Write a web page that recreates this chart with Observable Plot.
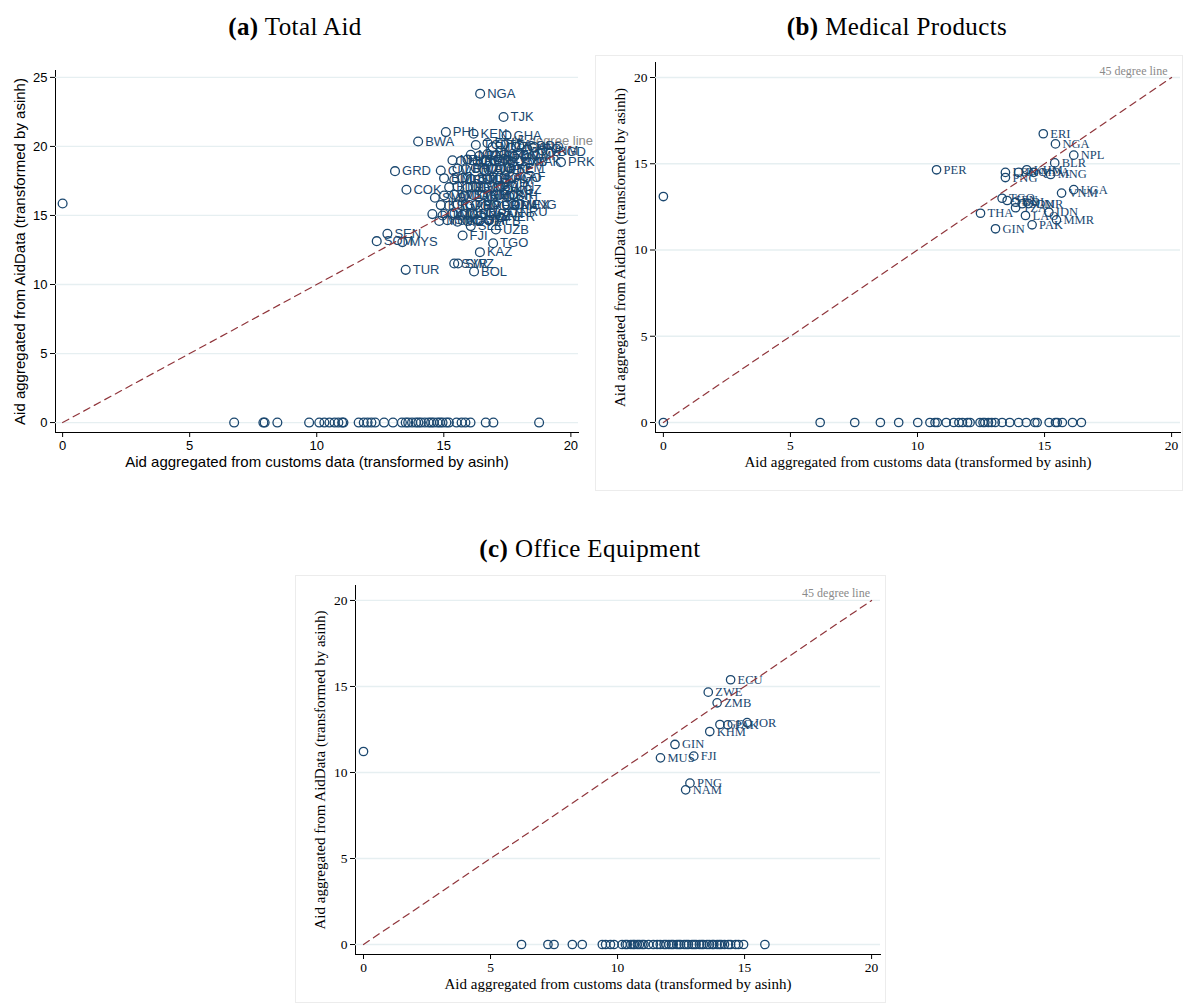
<!DOCTYPE html>
<html><head><meta charset="utf-8">
<script src="https://cdn.jsdelivr.net/npm/d3@7"></script>
<script src="https://cdn.jsdelivr.net/npm/@observablehq/plot@0.6"></script>
<style>
body{margin:0;background:#fff;width:1183px;height:1003px;position:relative;overflow:hidden}
.title{position:absolute;font-family:"Liberation Serif",serif;font-size:25px;letter-spacing:0.4px;transform:translate(-50%,-50%);white-space:nowrap;color:#000}
.panel{position:absolute}
.box{position:absolute;border:1px solid #ececec;box-sizing:border-box}
</style></head><body>
<div class="box" style="left:595px;top:55px;width:588px;height:436px"></div>
<div class="box" style="left:295px;top:575px;width:591px;height:428px"></div>
<div class="title" style="left:295px;top:27px"><b>(a)</b> Total Aid</div>
<div class="title" style="left:897px;top:27px"><b>(b)</b> Medical Products</div>
<div class="title" style="left:590px;top:549px"><b>(c)</b> Office Equipment</div>
<div id="pa" class="panel" style="left:0;top:0"></div>
<div id="pb" class="panel" style="left:595px;top:55px"></div>
<div id="pc" class="panel" style="left:295px;top:575px"></div>
<script>
const xTicks = [0, 5, 10, 15, 20];
const yTicksA = [0, 5, 10, 15, 20, 25];
const yTicksBC = [0, 5, 10, 15, 20];
const diagonal = [0, 20];
const xTitle = "Aid aggregated from customs data (transformed by asinh)";
const yTitle = "Aid aggregated from AidData (transformed by asinh)";
const lineText = "45 degree line";

// ---- (a) Total Aid ----
const totalCodes = ["NGA","TJK","PHL","KEN","GHA","BWA","GRD","CIV","COK","SLB","PRK","PAK","SEN","SOM","MYS","TUR","FJI","SLE","UZB","TGO","KAZ","BOL","SYR","SWZ","ALB","KGZ","MNG","NER","NRU","CAF",
 "TCD","ETH","MOZ","TZA","UGA","COD","AFG","IND","VNM","BGD",
 "MLI","BFA","NIC","HTI","SDN","MWI","CMR",
 "NPL","LKA","HND","BEN","GIN","IRQ","EGY","ZMB",
 "LBR","RWA","MDG","ZWE","JOR","PSE","YEM",
 "BDI","MRT","LSO","GMB","TLS","LAO","KHM","AGO",
 "BTN","DJI","ERI","GNB","CPV","MAR","TUN",
 "VUT","WSM","TON","ARM","GEO","MDA","UKR","BIH",
 "KIR","SLV","GTM","PRY","ECU","PER","COL","BRA","MEX",
 "DOM","JAM","CUB","GUY","SUR","BLZ","PAN",
 "MUS","SYC","MDV","COM","STP"];
const totalCustoms = [16.43,17.35,15.08,16.17,17.47,13.99,13.08,14.88,13.53,14.65,19.61,18.36,12.78,12.36,13.37,13.50,15.74,16.06,17.05,16.94,16.42,16.19,15.41,15.56,16.78,17.51,17.97,17.24,17.70,17.70,
 16.26,16.72,16.92,17.24,17.64,17.97,18.29,18.56,18.88,19.21,
 16.06,16.39,16.72,17.05,17.38,17.77,18.16,
 15.34,15.67,15.93,16.33,16.65,16.98,17.38,17.71,
 15.54,15.87,16.26,16.59,16.92,17.24,17.57,
 15.01,15.41,15.73,16.06,16.39,16.72,17.11,17.44,
 15.21,15.54,15.93,16.26,16.59,16.92,17.24,
 15.01,15.41,15.80,16.19,16.52,16.85,17.18,17.57,
 14.88,15.21,15.54,15.93,16.26,16.65,16.98,17.38,17.77,
 14.55,14.95,15.34,15.73,16.13,16.46,16.85,
 14.82,15.14,15.54,15.93,16.33];
const totalAidData = [23.82,22.13,21.04,20.92,20.80,20.36,18.21,18.26,16.86,16.28,18.86,18.86,13.67,13.14,13.07,11.06,13.55,14.23,13.99,12.99,12.34,10.94,11.52,11.52,14.64,16.86,15.80,14.88,15.24,17.78,
 20.10,20.25,19.95,20.15,19.90,20.05,19.80,19.95,19.70,19.60,
 19.40,19.30,19.45,19.30,19.40,19.25,19.35,
 19.00,18.95,19.05,18.90,19.00,18.95,19.10,18.85,
 18.40,18.35,18.45,18.30,18.40,18.35,18.45,
 17.70,17.60,17.70,17.65,17.60,17.70,17.60,17.70,
 17.05,17.10,17.00,17.10,17.00,17.05,17.10,
 16.45,16.50,16.40,16.45,16.50,16.40,16.50,16.40,
 15.75,15.70,15.80,15.70,15.75,15.70,15.80,15.70,15.75,
 15.10,15.00,15.15,15.05,15.10,15.00,15.15,
 14.60,14.65,14.55,14.60,14.65];
const totalZeroCustoms = [6.75,7.9,7.95,8.45,9.7,10.1,10.3,10.5,10.7,10.85,11.0,11.05,11.65,11.85,12.0,12.15,12.3,12.65,13.0,13.35,13.5,13.6,13.75,13.9,14.0,14.1,14.25,14.4,14.5,14.6,14.75,14.85,14.95,15.1,15.2,15.5,15.7,15.85,16.05,16.65,16.95,18.75];
const totalOutCustoms = [0];
const totalOutAidData = [15.87];
const totalLineLabel = [19.25, 20.4];

// ---- (b) Medical Products ----
const medCodes = ["ERI","NGA","NPL","BLR","PER","LBN","PNG","IRQ","KHM","MDA","MNG","UGA","VNM","TGO","SEN","BDI","SDN","CMR","TZA","THA","LAO","IDN","MMR","PAK","GIN"];
const medCustoms = [14.95,15.43,16.15,15.40,10.75,13.46,13.46,13.98,14.30,14.57,15.24,16.15,15.67,13.33,13.53,13.86,14.12,14.37,13.86,12.48,14.25,15.17,15.47,14.51,13.07];
const medAidData = [16.74,16.15,15.50,15.05,14.65,14.50,14.20,14.50,14.65,14.50,14.38,13.50,13.30,13.00,12.87,12.77,12.68,12.69,12.45,12.13,12.00,12.19,11.75,11.46,11.23];
const medZeroCustoms = [6.17,7.53,8.54,9.26,10.01,10.49,10.69,10.78,11.13,11.43,11.63,11.77,11.97,12.07,12.46,12.58,12.65,12.79,12.92,13.06,13.33,13.63,13.98,14.28,14.62,14.71,15.18,15.43,15.5,15.7,16.1,16.45];
const medOutCustoms = [0, 0];
const medOutAidData = [13.1, 0];
const medLineLabel = [18.5, 20.35];

// ---- (c) Office Equipment ----
const offCodes = ["ECU","ZWE","ZMB","GEO","PAK","JOR","KHM","GIN","MUS","FJI","PNG","NAM"];
const offCustoms = [14.45,13.57,13.92,14.03,14.34,15.10,13.63,12.26,11.69,13.00,12.85,12.68];
const offAidData = [15.39,14.67,14.05,12.79,12.77,12.90,12.38,11.63,10.85,10.95,9.38,8.99];
const offZeroCustoms = [6.22,7.26,7.5,8.22,8.61,9.4,9.53,9.72,9.86,10.18,10.31,10.38,10.52,10.61,10.67,10.78,10.86,10.97,11.04,11.22,11.41,11.56,11.68,11.83,11.91,12.02,12.12,12.19,12.33,12.41,12.48,12.62,12.71,12.79,12.93,13.01,13.09,13.22,13.31,13.38,13.52,13.61,13.73,13.79,13.92,14.01,14.08,14.21,14.36,14.45,14.65,14.76,14.96,15.8];
const offOutCustoms = [0];
const offOutAidData = [11.22];
const offLineLabel = [18.6, 20.4];

function makePanel(c) {
  const pts = c.codes.map((code, i) => ({code, x: c.xs[i], y: c.ys[i]}));
  const zeros = c.zeros.map(x => ({x, y: 0}));
  const outs = c.outX.map((x, i) => ({x, y: c.outY[i]}));
  const all = pts.concat(zeros, outs);
  const diag = diagonal.map(d => ({x: d, y: d}));
  return Plot.plot({
    width: c.width, height: c.height,
    marginLeft: c.ml, marginRight: c.mr, marginTop: c.mt, marginBottom: c.mb,
    style: {fontFamily: c.font, fontSize: c.tickFont + "px", background: "transparent", color: "#000", overflow: "visible"},
    x: {domain: c.xDom, ticks: xTicks, tickSize: 5, tickPadding: 3, line: true, label: null},
    y: {domain: c.yDom, ticks: c.yTicks, tickSize: 5, tickPadding: 3, line: true, label: null},
    marks: [
      Plot.ruleY(c.yTicks, {stroke: "#e6eff1", strokeWidth: 1.3}),
      Plot.text([lineText], {x: () => c.lineLabel[0], y: () => c.lineLabel[1], text: d => d, fill: "#8a8a8a", fontSize: c.lineFont, textAnchor: "middle"}),
      Plot.dot(all, {x: "x", y: "y", r: c.r, stroke: "#1a476f", strokeWidth: 1.3, fill: "none"}),
      Plot.text(pts, {x: "x", y: "y", text: "code", dx: c.dx, textAnchor: "start", fill: "#1a476f", fontSize: c.labelFont}),
      Plot.line(diag, {x: "x", y: "y", stroke: "#90353b", strokeWidth: 1.2, strokeDasharray: "7,5"}),
      Plot.text([xTitle], {frameAnchor: "bottom", dy: 34, text: d => d, fontSize: c.titleFont, textAnchor: "middle"}),
      Plot.text([yTitle], {frameAnchor: "left", dx: -35, rotate: -90, text: d => d, fontSize: c.titleFont, textAnchor: "middle"})
    ]
  });
}

document.getElementById("pa").append(makePanel({
  codes: totalCodes, xs: totalCustoms, ys: totalAidData, zeros: totalZeroCustoms,
  outX: totalOutCustoms, outY: totalOutAidData, lineLabel: totalLineLabel,
  width: 595, height: 490, ml: 55, mr: 17, mt: 70, mb: 58,
  xDom: [-0.28, 20.3], yDom: [-0.72, 25.5], yTicks: yTicksA,
  font: "Liberation Sans, Arial, sans-serif", tickFont: 13, labelFont: 13, titleFont: 15, lineFont: 13,
  r: 4.4, dx: 7
}));
document.getElementById("pb").append(makePanel({
  codes: medCodes, xs: medCustoms, ys: medAidData, zeros: medZeroCustoms,
  outX: medOutCustoms, outY: medOutAidData, lineLabel: medLineLabel,
  width: 588, height: 435, ml: 60, mr: 3, mt: 7, mb: 58,
  xDom: [-0.31, 20.35], yDom: [-0.58, 20.87], yTicks: yTicksBC,
  font: "Liberation Serif, Times New Roman, serif", tickFont: 13.5, labelFont: 12.5, titleFont: 15, lineFont: 12,
  r: 4.2, dx: 7
}));
document.getElementById("pc").append(makePanel({
  codes: offCodes, xs: offCustoms, ys: offAidData, zeros: offZeroCustoms,
  outX: offOutCustoms, outY: offOutAidData, lineLabel: offLineLabel,
  width: 590, height: 428, ml: 60, mr: 5, mt: 10, mb: 49,
  xDom: [-0.315, 20.35], yDom: [-0.58, 20.87], yTicks: yTicksBC,
  font: "Liberation Serif, Times New Roman, serif", tickFont: 13.5, labelFont: 12.5, titleFont: 15, lineFont: 12,
  r: 4.2, dx: 7
}));
</script>
</body></html>
